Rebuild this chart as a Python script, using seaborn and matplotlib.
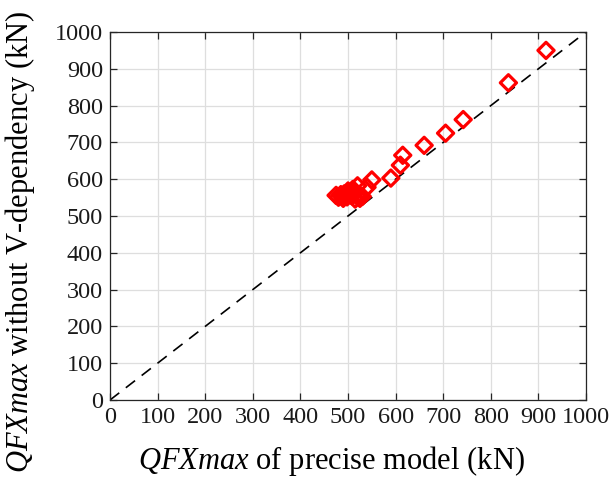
import matplotlib
matplotlib.use("Agg")
import matplotlib.pyplot as plt
import seaborn as sns
import pandas as pd

# Data (kN)
precise = [475, 480, 485, 488, 492, 495, 498, 502, 505, 508, 512, 515, 518, 522, 525, 530,
           500, 510, 490, 515, 520, 540, 550, 590, 610, 615, 660, 705, 742, 837, 916]
without_v = [556, 551, 558, 553, 560, 555, 552, 558, 563, 555, 560, 566, 556, 552, 548, 553,
             568, 572, 548, 546, 582, 578, 598, 603, 638, 665, 692, 725, 762, 862, 950]
line_x = [0, 1000]
line_y = [0, 1000]
ticks = [0, 100, 200, 300, 400, 500, 600, 700, 800, 900, 1000]

df = pd.DataFrame({"precise": precise, "without": without_v})

sns.set_theme(style="whitegrid")
plt.rcParams["font.family"] = ["Liberation Serif", "DejaVu Serif"]
plt.rcParams["mathtext.fontset"] = "custom"
plt.rcParams["mathtext.rm"] = "Liberation Serif"
plt.rcParams["mathtext.it"] = "Liberation Serif:italic"

fig = plt.figure(figsize=(6.16, 4.82), dpi=100)
ax = fig.add_axes([110/616, 82/482, 476/616, 368/482])

ax.plot(line_x, line_y, color="black", linestyle=(0, (7, 5)), linewidth=1.2, zorder=2)
sns.scatterplot(data=df, x="precise", y="without", ax=ax, marker="D", s=68,
                facecolors="none", edgecolor="red", linewidth=2.3, zorder=3)

ax.set_xlim(0, 1000)
ax.set_ylim(0, 1000)
ax.set_xticks(ticks)
ax.set_yticks(ticks)
ax.set_xticklabels([str(t) for t in ticks])
ax.set_yticklabels([str(t) for t in ticks])
ax.grid(True, color="#dedede", linewidth=0.9)
ax.set_facecolor("white")
for s in ax.spines.values():
    s.set_color("#262626")
    s.set_linewidth(0.9)
    s.set_visible(True)
ax.tick_params(direction="in", length=5, width=0.9, colors="#262626",
               top=True, right=True, bottom=True, left=True,
               labelsize=17.5, pad=5)
for lab in ax.get_xticklabels() + ax.get_yticklabels():
    lab.set_color("#1a1a1a")

ax.set_xlabel(r"$\mathit{QFXmax}$ of precise model (kN)", fontsize=22, color="black")
ax.set_ylabel(r"$\mathit{QFXmax}$ without V-dependency (kN)", fontsize=22, color="black")
ax.xaxis.set_label_coords(0.466, -0.12)
ax.yaxis.set_label_coords(-0.153, 0.43)

fig.savefig("out.png", dpi=100, facecolor="white")
